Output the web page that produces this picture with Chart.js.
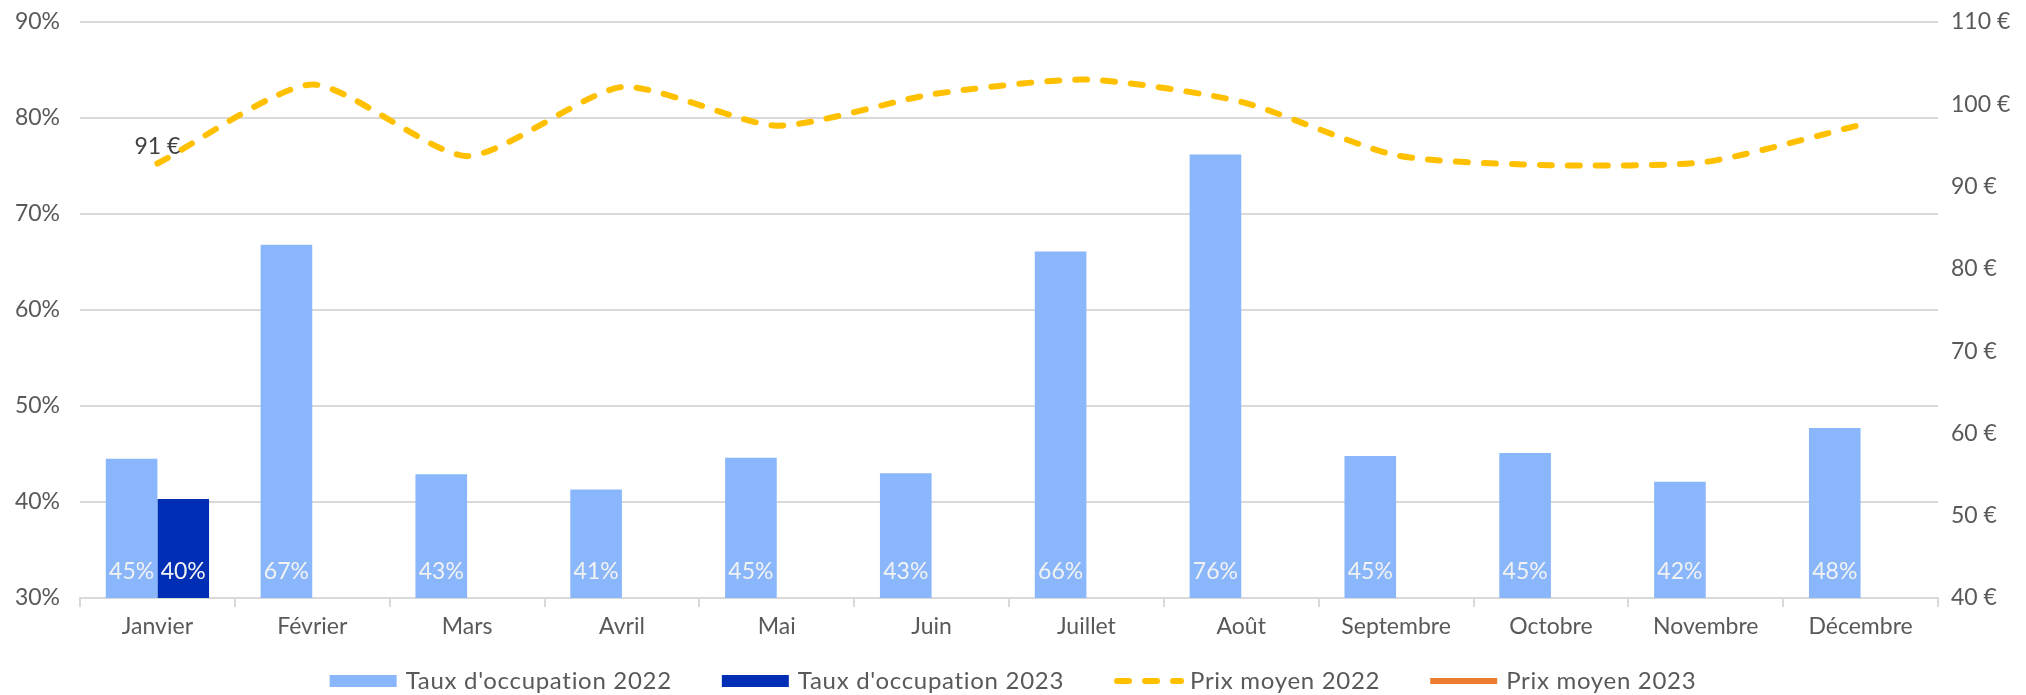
<!DOCTYPE html>
<html>
<head>
<meta charset="utf-8">
<script src="https://cdn.jsdelivr.net/npm/chart.js@4/dist/chart.umd.min.js"></script>
<style>
  html, body { margin: 0; padding: 0; background: #fff; }
  #wrap { width: 2026px; height: 695px; }
</style>
</head>
<body>
<div id="wrap"><canvas id="chart" width="2026" height="695"></canvas></div>
<script>
// données
const mois = ['Janvier', 'Février', 'Mars', 'Avril', 'Mai', 'Juin', 'Juillet', 'Août', 'Septembre', 'Octobre', 'Novembre', 'Décembre'];
const taux2022 = [44.5, 66.8, 42.9, 41.3, 44.6, 43.0, 66.1, 76.2, 44.8, 45.1, 42.1, 47.7];
const taux2023 = [40.3, null, null, null, null, null, null, null, null, null, null, null];
const prix2022 = [92.8, 102.4, 93.7, 102.1, 97.4, 101.2, 103.0, 100.3, 93.8, 92.6, 93.0, 97.5];
const prix2023 = [91, null, null, null, null, null, null, null, null, null, null, null];

const police = 'Lato, "Open Sans", sans-serif';
const taille = 23;
const gris = '#595959';

// étiquettes de valeurs (pas de plugin datalabels disponible)
const etiquettes = {
  id: 'etiquettes',
  afterDatasetsDraw(chart) {
    const ctx = chart.ctx;
    const base = chart.scales.y.getPixelForValue(chart.scales.y.min);
    ctx.save();
    ctx.font = taille + 'px ' + police;
    ctx.textAlign = 'center';
    ctx.textBaseline = 'middle';
    // barres : texte clair en bas de la barre
    [0, 1].forEach(i => {
      chart.getDatasetMeta(i).data.forEach((bar, j) => {
        const v = chart.data.datasets[i].data[j];
        if (v == null) return;
        ctx.fillStyle = '#f2f2f2';
        ctx.fillText(Math.round(v) + '%', bar.x, base - 26);
      });
    });
    // prix moyen 2023 : étiquette au-dessus du point
    chart.getDatasetMeta(3).data.forEach((pt, j) => {
      const v = chart.data.datasets[3].data[j];
      if (v == null) return;
      ctx.fillStyle = '#404040';
      ctx.fillText(Math.round(v) + ' €', pt.x, pt.y - 32);
    });
    ctx.restore();
  }
};

// légende dessinée à la main, en bas
const legende = {
  id: 'legende',
  afterDraw(chart) {
    const ctx = chart.ctx;
    const y = 681;
    const boite = 67, ecart = 9, espace = 50;
    ctx.save();
    ctx.font = '24px ' + police;
    ctx.letterSpacing = '0.7px';
    ctx.textBaseline = 'middle';
    const items = chart.data.datasets.map(ds => ({ ds, w: boite + ecart + ctx.measureText(ds.label).width }));
    const total = items.reduce((s, it) => s + it.w, 0) + espace * (items.length - 1);
    let x = (chart.width - total) / 2;
    items.forEach(({ ds, w }) => {
      if (ds.type === 'line') {
        ctx.strokeStyle = ds.borderColor;
        ctx.lineWidth = ds.borderWidth;
        ctx.lineCap = ds.borderCapStyle || 'butt';
        ctx.setLineDash(ds.borderDash || []);
        ctx.beginPath();
        const r = ds.borderCapStyle === 'round' ? ds.borderWidth / 2 : 0;
        ctx.moveTo(x + r, y);
        ctx.lineTo(x + boite, y);
        ctx.stroke();
        ctx.setLineDash([]);
      } else {
        ctx.fillStyle = ds.backgroundColor;
        ctx.fillRect(x, y - 6, boite, 12);
      }
      ctx.fillStyle = gris;
      ctx.fillText(ds.label, x + boite + ecart, y);
      x += w + espace;
    });
    ctx.restore();
  }
};

// pas de marge réservée au-dessus des graduations
function sansMarge(scale, largeur) {
  scale.width = largeur;
  scale.paddingTop = 0;
  scale.paddingBottom = 0;
}

const ctx = document.getElementById('chart').getContext('2d');
ctx.letterSpacing = '1px';
new Chart(ctx, {
  type: 'bar',
  data: {
    labels: mois,
    datasets: [
      {
        label: "Taux d'occupation 2022",
        data: taux2022,
        backgroundColor: '#8ab7fb',
        yAxisID: 'y',
        order: 2,
        categoryPercentage: 0.667,
        barPercentage: 1.0
      },
      {
        label: "Taux d'occupation 2023",
        data: taux2023,
        backgroundColor: '#002fb5',
        yAxisID: 'y',
        order: 2,
        categoryPercentage: 0.667,
        barPercentage: 1.0
      },
      {
        type: 'line',
        label: 'Prix moyen 2022',
        data: prix2022,
        borderColor: '#ffc000',
        backgroundColor: '#ffc000',
        borderWidth: 6,
        borderDash: [12, 16],
        borderCapStyle: 'round',
        tension: 0.22,
        pointRadius: 0,
        yAxisID: 'y1',
        order: 1
      },
      {
        type: 'line',
        label: 'Prix moyen 2023',
        data: prix2023,
        borderColor: '#ed7d31',
        backgroundColor: '#ed7d31',
        borderWidth: 6,
        pointRadius: 0,
        yAxisID: 'y1',
        order: 1
      }
    ]
  },
  options: {
    responsive: false,
    animation: false,
    layout: { padding: { top: 22, left: 0, right: 0, bottom: 57 } },
    plugins: {
      tooltip: { enabled: false },
      legend: { display: false }
    },
    scales: {
      x: {
        grid: { offset: true, drawOnChartArea: false, drawTicks: true, tickLength: 9, color: '#d9d9d9', lineWidth: 2 },
        border: { color: '#d9d9d9', width: 2 },
        ticks: { color: gris, font: { size: taille, family: police }, padding: 6, maxRotation: 0 },
        afterFit(scale) { scale.height = 40; scale.paddingLeft = 0; scale.paddingRight = 0; }
      },
      y: {
        position: 'left',
        min: 30,
        max: 90,
        ticks: { stepSize: 10, color: gris, font: { size: taille, family: police }, padding: 20, callback: v => v + '%' },
        grid: { color: '#d9d9d9', lineWidth: 2, drawTicks: false },
        border: { display: false },
        afterFit(scale) { sansMarge(scale, 80); }
      },
      y1: {
        position: 'right',
        min: 40,
        max: 110,
        ticks: { stepSize: 10, color: gris, font: { size: taille, family: police }, padding: 13, callback: v => v + ' €' },
        grid: { drawOnChartArea: false, drawTicks: false },
        border: { display: false },
        afterFit(scale) { sansMarge(scale, 88); }
      }
    }
  },
  plugins: [etiquettes, legende]
});
</script>
</body>
</html>
